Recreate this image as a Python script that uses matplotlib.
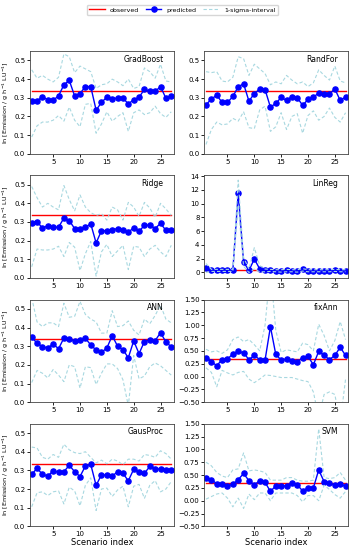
import numpy as np
import matplotlib
matplotlib.use('Agg')
import matplotlib.pyplot as plt

scenarios = np.arange(1, 28)
observed = 0.336

gradboost_pred = [0.285, 0.283, 0.306, 0.289, 0.287, 0.31, 0.37, 0.393, 0.31, 0.323, 0.36, 0.36, 0.234,
                  0.275, 0.304, 0.296, 0.298, 0.298, 0.268, 0.289, 0.302, 0.346, 0.334, 0.334, 0.36, 0.298, 0.307]
gradboost_hi = [0.45, 0.405, 0.42, 0.40, 0.385, 0.41, 0.535, 0.52, 0.435, 0.47, 0.455, 0.44, 0.35,
                0.37, 0.375, 0.40, 0.385, 0.365, 0.40, 0.35, 0.36, 0.46, 0.44, 0.405, 0.48, 0.39, 0.385]
gradboost_lo = [0.09, 0.15, 0.17, 0.17, 0.18, 0.205, 0.175, 0.25, 0.18, 0.145, 0.265, 0.27, 0.11,
                0.16, 0.225, 0.175, 0.2, 0.22, 0.12, 0.22, 0.235, 0.21, 0.22, 0.255, 0.215, 0.195, 0.225]

randfor_pred = [0.263, 0.293, 0.314, 0.275, 0.275, 0.307, 0.359, 0.375, 0.282, 0.323, 0.346, 0.344, 0.25,
                0.27, 0.302, 0.286, 0.305, 0.30, 0.26, 0.291, 0.304, 0.325, 0.32, 0.32, 0.348, 0.286, 0.304]
randfor_hi = [0.44, 0.435, 0.44, 0.39, 0.385, 0.41, 0.52, 0.51, 0.42, 0.48, 0.455, 0.43, 0.37,
              0.385, 0.375, 0.42, 0.395, 0.375, 0.385, 0.36, 0.38, 0.45, 0.42, 0.395, 0.47, 0.39, 0.38]
randfor_lo = [0.05, 0.13, 0.17, 0.155, 0.16, 0.19, 0.175, 0.225, 0.14, 0.135, 0.235, 0.255, 0.12,
              0.145, 0.22, 0.13, 0.2, 0.215, 0.11, 0.205, 0.23, 0.18, 0.2, 0.245, 0.195, 0.17, 0.22]

ridge_pred = [0.296, 0.302, 0.267, 0.28, 0.272, 0.272, 0.321, 0.307, 0.265, 0.261, 0.272, 0.29, 0.188,
              0.253, 0.253, 0.258, 0.265, 0.258, 0.244, 0.27, 0.25, 0.282, 0.284, 0.265, 0.293, 0.255, 0.255]
ridge_hi = [0.49, 0.43, 0.38, 0.40, 0.38, 0.365, 0.495, 0.42, 0.36, 0.445, 0.38, 0.35, 0.335,
            0.345, 0.31, 0.38, 0.365, 0.31, 0.405, 0.38, 0.33, 0.405, 0.375, 0.325, 0.40, 0.37, 0.335]
ridge_lo = [0.06, 0.155, 0.15, 0.15, 0.155, 0.17, 0.115, 0.19, 0.165, 0.04, 0.13, 0.195, 0.01,
            0.14, 0.18, 0.115, 0.145, 0.175, 0.045, 0.17, 0.165, 0.115, 0.155, 0.175, 0.14, 0.115, 0.175]

linreg_pred = [0.58, 0.3, 0.3, 0.3, 0.3, 0.3, 11.55, 1.5, 0.3, 1.95, 0.53, 0.3, 0.34,
               0.25, 0.2, 0.3, 0.25, 0.2, 0.44, 0.25, 0.25, 0.25, 0.25, 0.25, 0.35, 0.25, 0.25]
linreg_hi = [1.3, 0.45, 0.45, 0.45, 0.45, 0.45, 13.4, 2.2, 0.5, 3.6, 1.0, 0.5, 0.45,
             0.4, 0.4, 0.45, 0.4, 0.4, 0.55, 0.4, 0.4, 0.4, 0.4, 0.4, 0.45, 0.4, 0.4]
linreg_lo = [0.0, 0.15, 0.15, 0.15, 0.15, 0.15, 9.8, 0.9, 0.0, 0.5, 0.1, 0.1, 0.15,
             0.1, 0.05, 0.1, 0.1, 0.05, 0.2, 0.1, 0.1, 0.1, 0.1, 0.1, 0.15, 0.1, 0.1]

ann_pred = [0.348, 0.316, 0.298, 0.29, 0.312, 0.286, 0.344, 0.337, 0.328, 0.333, 0.342, 0.307, 0.279,
            0.267, 0.29, 0.356, 0.30, 0.281, 0.238, 0.328, 0.26, 0.325, 0.333, 0.33, 0.372, 0.323, 0.296]
ann_hi = [0.56, 0.43, 0.405, 0.425, 0.425, 0.405, 0.53, 0.455, 0.46, 0.54, 0.47, 0.445, 0.43,
          0.37, 0.37, 0.49, 0.405, 0.41, 0.435, 0.385, 0.36, 0.445, 0.42, 0.465, 0.52, 0.445, 0.425]
ann_lo = [0.105, 0.17, 0.155, 0.13, 0.175, 0.145, 0.11, 0.2, 0.19, 0.075, 0.19, 0.185, 0.095,
          0.155, 0.205, 0.205, 0.18, 0.12, -0.02, 0.25, 0.125, 0.14, 0.19, 0.21, 0.195, 0.17, 0.145]

fixann_pred = [0.37, 0.29, 0.21, 0.33, 0.34, 0.44, 0.49, 0.46, 0.33, 0.41, 0.33, 0.32, 0.97,
               0.43, 0.32, 0.34, 0.30, 0.28, 0.37, 0.39, 0.23, 0.49, 0.41, 0.33, 0.41, 0.57, 0.41]
fixann_hi = [0.53, 0.48, 0.50, 0.45, 0.52, 0.72, 0.77, 0.68, 0.72, 0.62, 0.50, 1.0, 2.1,
             0.9, 0.47, 0.52, 0.50, 0.48, 0.65, 0.62, 0.50, 1.02, 0.80, 0.50, 0.70, 1.07, 0.72]
fixann_lo = [0.17, 0.08, -0.2, 0.12, 0.07, 0.03, 0.08, 0.1, -0.05, -0.12, -0.05, 0.03, 0.02,
             0.0, -0.02, -0.02, -0.02, -0.05, -0.08, -0.1, -0.3, -0.8, -0.35, -0.3, -0.35, -0.9, -0.05]

gausproc_pred = [0.279, 0.311, 0.279, 0.269, 0.298, 0.291, 0.293, 0.327, 0.293, 0.267, 0.323, 0.332, 0.219,
                 0.277, 0.274, 0.269, 0.293, 0.284, 0.244, 0.306, 0.291, 0.284, 0.321, 0.309, 0.307, 0.304, 0.304]
gausproc_hi = [0.425, 0.42, 0.37, 0.36, 0.385, 0.37, 0.44, 0.41, 0.395, 0.39, 0.40, 0.37, 0.34,
               0.355, 0.335, 0.36, 0.35, 0.33, 0.36, 0.36, 0.35, 0.385, 0.38, 0.37, 0.405, 0.39, 0.36]
gausproc_lo = [0.105, 0.18, 0.185, 0.165, 0.185, 0.19, 0.12, 0.21, 0.19, 0.11, 0.22, 0.26, 0.085,
               0.2, 0.205, 0.16, 0.195, 0.215, 0.105, 0.215, 0.225, 0.15, 0.22, 0.245, 0.185, 0.2, 0.24]

svm_pred = [0.44, 0.41, 0.33, 0.33, 0.29, 0.32, 0.41, 0.53, 0.39, 0.31, 0.39, 0.36, 0.18,
            0.29, 0.29, 0.29, 0.35, 0.31, 0.19, 0.25, 0.25, 0.60, 0.37, 0.34, 0.30, 0.33, 0.28]
svm_hi = [0.75, 0.68, 0.55, 0.48, 0.45, 0.6, 0.62, 0.93, 0.58, 0.60, 0.58, 0.55, 0.40,
          0.40, 0.40, 0.45, 0.45, 0.40, 0.38, 0.38, 0.40, 1.40, 0.45, 0.43, 0.45, 0.55, 0.40]
svm_lo = [0.03, 0.08, 0.13, 0.15, 0.05, -0.12, 0.05, -0.15, 0.13, 0.02, 0.15, 0.15, 0.0,
          0.15, 0.15, 0.15, 0.15, 0.1, -0.02, 0.1, 0.1, 0.0, 0.3, 0.22, 0.12, 0.05, 0.18]

models = ['GradBoost', 'RandFor', 'Ridge', 'LinReg', 'ANN', 'fixAnn', 'GausProc', 'SVM']
preds = [gradboost_pred, randfor_pred, ridge_pred, linreg_pred, ann_pred, fixann_pred, gausproc_pred, svm_pred]
his = [gradboost_hi, randfor_hi, ridge_hi, linreg_hi, ann_hi, fixann_hi, gausproc_hi, svm_hi]
los = [gradboost_lo, randfor_lo, ridge_lo, linreg_lo, ann_lo, fixann_lo, gausproc_lo, svm_lo]

fig, axes = plt.subplots(4, 2, figsize=(3.54, 5.5), dpi=100)
plt.subplots_adjust(left=0.085, right=0.983, top=0.907, bottom=0.043, wspace=0.214, hspace=0.21)

sigma_color = '#a8d8e0'

for i, ax in enumerate(axes.flat):
    ax.plot(scenarios, [observed] * len(scenarios), color='red', lw=1, label='observed')
    ax.plot(scenarios, preds[i], color='blue', marker='o', ms=3.7, lw=1, label='predicted')
    ax.plot(scenarios, his[i], color=sigma_color, ls='--', lw=0.8, dashes=(3, 2), label='1-sigma-interval')
    ax.plot(scenarios, los[i], color=sigma_color, ls='--', lw=0.8, dashes=(3, 2))
    ax.text(0.93, 0.92, models[i], transform=ax.transAxes, ha='right', va='center', fontsize=5.5)
    ax.set_xlim(0.7, 27.45)
    ax.set_xticks([5, 10, 15, 20, 25])
    ax.tick_params(labelsize=5, length=2, width=0.6, pad=1.5)
    for s in ax.spines.values():
        s.set_linewidth(0.6)
        s.set_color('#444444')
    name = models[i]
    if name == 'LinReg':
        ax.set_ylim(-0.8, 14.1)
        ax.set_yticks(range(0, 15, 2))
    elif name in ('fixAnn', 'SVM'):
        ax.set_ylim(-0.5, 1.5)
        ax.set_yticks(np.arange(-0.5, 1.51, 0.25))
    else:
        ax.set_ylim(0, 0.55)
        ax.set_yticks(np.arange(0, 0.51, 0.1))
        ax.yaxis.set_major_formatter(plt.FormatStrFormatter('%.1f'))
    if i % 2 == 0:
        ax.set_ylabel('ln [Emission / g h$^{-1}$ LU$^{-1}$]', fontsize=4.6, labelpad=2)
    if i >= 6:
        ax.set_xlabel('Scenario index', fontsize=6, labelpad=0.5)

handles, labels = axes[0, 0].get_legend_handles_labels()
fig.legend(handles, labels, loc='upper center', bbox_to_anchor=(0.515, 0.997), ncol=3, fontsize=4.5,
           frameon=True, handlelength=2.5, columnspacing=1.1, borderpad=0.4, numpoints=1)

plt.savefig('out.png', dpi=100)
